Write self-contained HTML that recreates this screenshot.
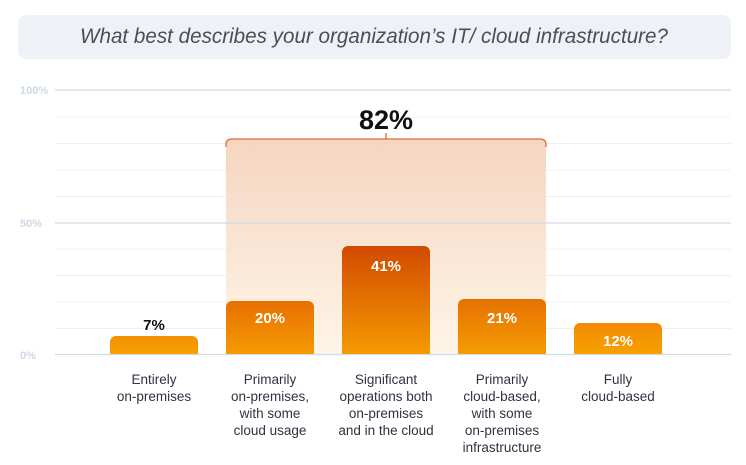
<!DOCTYPE html>
<html><head><meta charset="utf-8"><style>
html,body{margin:0;padding:0;background:#fff;width:746px;height:465px;overflow:hidden}
svg{display:block;font-family:"Liberation Sans",sans-serif}
</style></head><body>
<svg width="746" height="465" viewBox="0 0 746 465">
<defs>
<linearGradient id="hl" x1="0" y1="0" x2="0" y2="1">
<stop offset="0" stop-color="#f5d3bd"/><stop offset="1" stop-color="#fef5e6"/>
</linearGradient>
<linearGradient id="b1" x1="0" y1="0" x2="0" y2="1"><stop offset="0" stop-color="#f39103"/><stop offset="1" stop-color="#f7a000"/></linearGradient>
<linearGradient id="b2" x1="0" y1="0" x2="0" y2="1"><stop offset="0" stop-color="#e86f02"/><stop offset="1" stop-color="#f59b03"/></linearGradient>
<linearGradient id="b3" x1="0" y1="0" x2="0" y2="1"><stop offset="0" stop-color="#d24a00"/><stop offset="1" stop-color="#f59a03"/></linearGradient>
<linearGradient id="b4" x1="0" y1="0" x2="0" y2="1"><stop offset="0" stop-color="#e67102"/><stop offset="1" stop-color="#f59c03"/></linearGradient>
<linearGradient id="b5" x1="0" y1="0" x2="0" y2="1"><stop offset="0" stop-color="#f28a03"/><stop offset="1" stop-color="#f7a000"/></linearGradient>
</defs>
<rect x="18" y="15" width="713" height="44" rx="8" fill="#eef2f7"/>
<text x="374" y="43" text-anchor="middle" font-size="21" font-style="italic" fill="#4a4e5c" textLength="588" lengthAdjust="spacingAndGlyphs">What best describes your organization’s IT/ cloud infrastructure?</text>
<g stroke="#eef0f3" stroke-width="1">
<line x1="55" y1="117" x2="731" y2="117"/><line x1="55" y1="143.5" x2="731" y2="143.5"/><line x1="55" y1="170" x2="731" y2="170"/><line x1="55" y1="196.5" x2="731" y2="196.5"/>
<line x1="55" y1="249" x2="731" y2="249"/><line x1="55" y1="275.5" x2="731" y2="275.5"/><line x1="55" y1="302" x2="731" y2="302"/><line x1="55" y1="328.5" x2="731" y2="328.5"/>
</g>
<path d="M226 354 V145 Q226 139 232 139 H540 Q546 139 546 145 V354 Z" fill="url(#hl)" opacity="0.95"/>
<path d="M226 147 V145 Q226 139 232 139 H540 Q546 139 546 145 V147 M386 139 V133" fill="none" stroke="#e06a35" stroke-width="1.3"/>
<g stroke="#d3dbe6" stroke-width="1.3">
<line x1="55" y1="90" x2="731" y2="90"/><line x1="55" y1="223" x2="731" y2="223"/><line x1="55" y1="354.5" x2="731" y2="354.5"/>
</g>
<g font-size="11" font-weight="bold" fill="#cfd9e6">
<text x="20" y="94">100%</text><text x="20" y="227">50%</text><text x="20" y="359">0%</text>
</g>
<text x="386" y="129" text-anchor="middle" font-size="27" font-weight="bold" fill="#111">82%</text>
<path d="M110 354V342a6 6 0 0 1 6-6h76a6 6 0 0 1 6 6V354Z" fill="url(#b1)"/>
<path d="M226 354V307a6 6 0 0 1 6-6h76a6 6 0 0 1 6 6V354Z" fill="url(#b2)"/>
<path d="M342 354V252a6 6 0 0 1 6-6h76a6 6 0 0 1 6 6V354Z" fill="url(#b3)"/>
<path d="M458 354V305a6 6 0 0 1 6-6h76a6 6 0 0 1 6 6V354Z" fill="url(#b4)"/>
<path d="M574 354V329a6 6 0 0 1 6-6h76a6 6 0 0 1 6 6V354Z" fill="url(#b5)"/>
<g font-size="15" font-weight="bold" text-anchor="middle">
<text x="154" y="330" fill="#111">7%</text>
<text x="270" y="323" fill="#fff">20%</text>
<text x="386" y="271" fill="#fff">41%</text>
<text x="502" y="323" fill="#fff">21%</text>
<text x="618" y="346" fill="#fff">12%</text>
</g>
<g font-size="13.5" fill="#2f3340" text-anchor="middle">
<text x="154" y="384">Entirely</text><text x="154" y="401">on-premises</text>
<text x="270" y="384">Primarily</text><text x="270" y="401">on-premises,</text><text x="270" y="418">with some</text><text x="270" y="435">cloud usage</text>
<text x="386" y="384">Significant</text><text x="386" y="401">operations both</text><text x="386" y="418">on-premises</text><text x="386" y="435">and in the cloud</text>
<text x="502" y="384">Primarily</text><text x="502" y="401">cloud-based,</text><text x="502" y="418">with some</text><text x="502" y="435">on-premises</text><text x="502" y="452">infrastructure</text>
<text x="618" y="384">Fully</text><text x="618" y="401">cloud-based</text>
</g>
</svg>
</body></html>
